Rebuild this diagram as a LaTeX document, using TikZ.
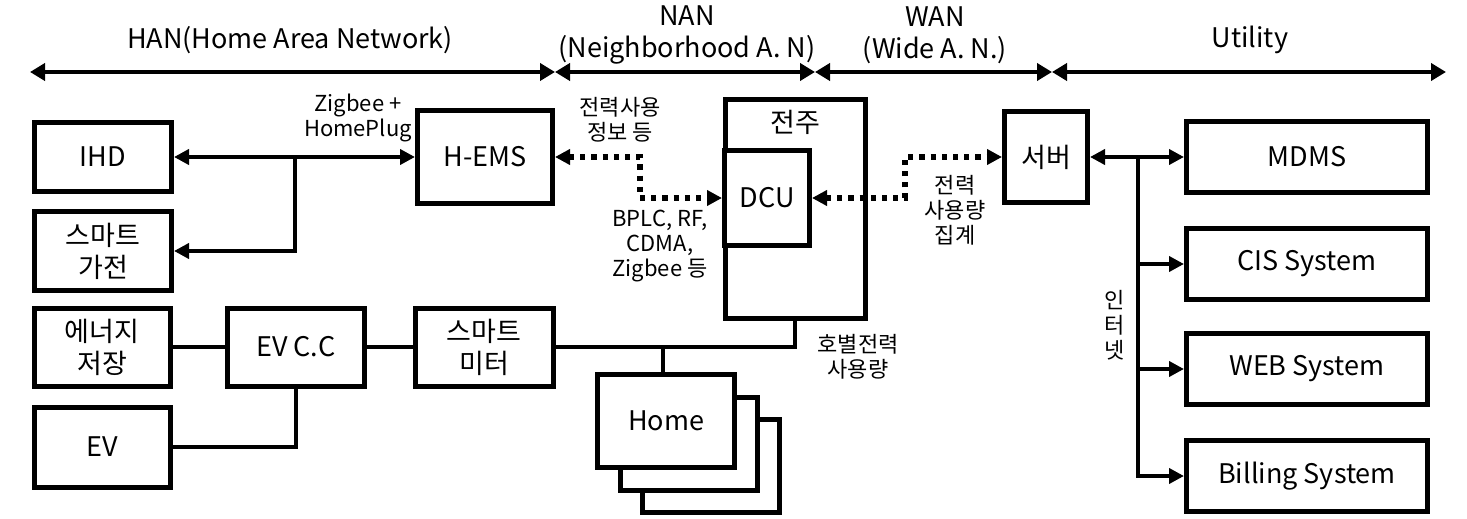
\documentclass[tikz,border=0pt]{standalone}
\usepackage{fontspec}
\setmainfont{Noto Sans CJK KR}
\usetikzlibrary{arrows.meta,calc}

\begin{document}
\begin{tikzpicture}[x=0.5pt,y=-0.5pt,font=\fontsize{13.5}{16}\selectfont,
  >={Triangle[length=7.5pt,width=7.5pt]},
  bx/.style={rectangle,draw,line width=2.5pt,fill=white,align=center,inner sep=2pt},
  sz/.style 2 args={minimum width=#1*0.5pt,minimum height=#2*0.5pt},
  lbl/.style={align=center,inner sep=1pt,font=\fontsize{11}{12.4}\selectfont},
  ar/.style={line width=2.1pt},
  dt/.style={line width=2.6pt,dash pattern=on 2.6pt off 3pt},
  rng/.style={<->,line width=2.3pt,>={Triangle[length=7.5pt,width=8.5pt]}}]
\useasboundingbox (0,0) rectangle (1467,519);
% network ranges
\coordinate (r0) at (30,72);\coordinate (r1) at (555,72);
\coordinate (r2) at (815,72);\coordinate (r3) at (1052,72);
\coordinate (r4) at (1446,72);
\draw[rng](r0)--(r1);\draw[rng](r1)--(r2);
\draw[rng](r2)--(r3);\draw[rng](r3)--(r4);
\node at (290,40)(han){HAN(Home Area Network)};
\node[align=center] at (687,35)(nan){NAN\\(Neighborhood A. N)};
\node[align=center] at (935,35)(wan){WAN\\(Wide A. N.)};
\node at (1250,40)(util){Utility};
% HAN
\node[bx,sz={137}{69}] at (103,157)(ihd){IHD};
\node[bx,sz={137}{79}] at (103,251)(appl){스마트\\가전};
\node[bx,sz={136}{78}] at (102,347)(ess){에너지\\저장};
\node[bx,sz={136}{80}] at (102,447)(ev){EV};
\node[bx,sz={137}{78}] at (296,347)(evcc){EV C.C};
\node[bx,sz={138}{78}] at (484,347)(meter){스마트\\미터};
\node[bx,sz={135}{93}] at (485,157)(hems){H-EMS};
% NAN
\node[bx,sz={140}{218}] at (795,209)(pole){};
\node at (795,122)(poletxt){전주};
\node[bx,sz={85}{95}] at (767,198)(dcu){DCU};
\node[bx,sz={137}{93}] at (711,466)(home3){};
\node[bx,sz={137}{93}] at (689,444)(home2){};
\node[bx,sz={137}{93}] at (666,421)(home1){Home};
% WAN / Utility
\node[bx,sz={83}{90}] at (1046,157)(srv){서버};
\node[bx,sz={241}{71}] at (1307,157)(mdms){MDMS};
\node[bx,sz={241}{71}] at (1307,264)(cis){CIS System};
\node[bx,sz={241}{71}] at (1307,369)(web){WEB System};
\node[bx,sz={241}{71}] at (1307,476)(bill){Billing System};
% junctions
\coordinate (j1) at (295,157);
\coordinate (j2) at (1138,157);
\coordinate (j3) at (663,347);
\coordinate (d1) at (640,180);
\coordinate (d2) at (905,180);
% connectors
\draw[ar,<->](ihd)--(hems);
\draw[ar,->](j1)|-(appl);
\draw[dt,<->](hems)-|(d1)|-(dcu);
\draw[dt,<->](dcu)-|(d2)|-(srv);
\draw[ar,<->](srv)--(mdms);
\draw[ar,->](j2)|-(cis);
\draw[ar,->](j2)|-(web);
\draw[ar,->](j2)|-(bill);
\draw[ar](ess)--(evcc);\draw[ar](evcc)--(meter);
\draw[ar](evcc)|-(ev);
\draw[ar](meter)-|(pole);
\draw[ar](j3)--(j3|-home1.north);
% labels
\node[lbl] at (358,118)(l1){Zigbee +\\HomePlug};
\node[lbl] at (620,120)(l2){전력사용\\정보 등};
\node[lbl] at (660,246)(l3){BPLC, RF,\\CDMA,\\Zigbee 등};
\node[lbl] at (955,210)(l4){전력\\사용량\\집계};
\node[lbl] at (858,357)(l5){호별전력\\사용량};
\node[lbl] at (1115,325)(l6){인\\터\\넷};
\end{tikzpicture}
\end{document}
